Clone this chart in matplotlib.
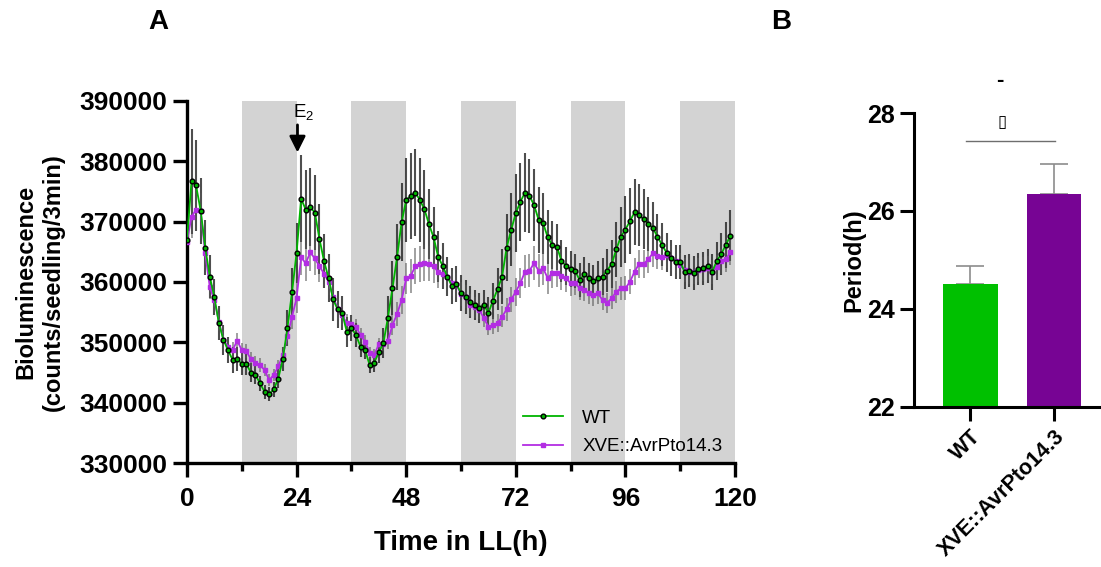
import numpy as np
import matplotlib
matplotlib.use("Agg")
import matplotlib.pyplot as plt
from matplotlib.lines import Line2D

plt.rcParams['font.family'] = ['Liberation Sans', 'DejaVu Sans']
plt.rcParams['mathtext.default'] = 'regular'

# ---- panel A data: bioluminescence, 1 h sampling in LL ----
hours = np.arange(0, 120)

wt_mean = [
    367000, 376700, 376000, 371800, 365700, 360900, 357450, 353150, 350400, 348700,
    347100, 347300, 346400, 346400, 345000, 344600, 343200, 341800, 341400, 342200,
    344000, 347300, 352400, 358300, 364850, 373800, 372000, 372400, 371500, 367200,
    363500, 360700, 357100, 355450, 354800, 351750, 352400, 351200, 349300, 348700,
    346250, 346600, 348350, 349850, 354100, 358950, 364100, 369900, 373600, 374250,
    374800, 373600, 372050, 369550, 367400, 364200, 362650, 360900, 359350, 359650,
    358200, 357550, 356700, 356200, 355750, 356200, 354900, 356900, 358800, 360900,
    365700, 368700, 371400, 373300, 374800, 374250, 372750, 370300, 369700, 367400,
    366100, 365850, 363500, 362650, 362150, 361800, 360300, 361300, 360600, 360150,
    360600, 360900, 361900, 363000, 365400, 367500, 368700, 370100, 371550, 371100,
    370400, 369600, 369000, 367500, 366200, 364850, 364000, 363350, 363350, 361600,
    361900, 361550, 362150, 362250, 362700, 361700, 363500, 364650, 366200, 367650,
]
wt_err = [
    3500, 8700, 7500, 5500, 4500, 3500, 3000, 2800, 2500, 2200,
    2200, 2000, 1800, 1800, 1600, 1500, 1300, 1200, 1200, 1300,
    1600, 2000, 3000, 4000, 5000, 7200, 6500, 6500, 6200, 5800,
    4500, 4000, 3500, 3000, 2800, 2500, 2200, 2000, 1800, 1500,
    1300, 1500, 1800, 2500, 3500, 4500, 5500, 6500, 7000, 7200,
    7200, 7000, 6500, 5800, 5000, 4200, 3800, 3300, 3000, 3000,
    3000, 2800, 2600, 2500, 2500, 2500, 2600, 3000, 3500, 4500,
    5500, 6000, 6500, 6500, 6500, 6200, 6000, 5500, 5000, 4500,
    4000, 3800, 3500, 3200, 3000, 2800, 2800, 2800, 2600, 2600,
    2800, 3000, 3500, 4000, 4500, 5000, 5500, 5500, 5500, 5200,
    5000, 4500, 4200, 3800, 3500, 3200, 3000, 2800, 2800, 2800,
    2800, 2800, 2700, 2700, 2800, 3000, 3200, 3500, 3800, 4200,
]
xve_mean = [
    366700, 370800, 372000, 371700, 364750, 359200, 357000, 353400, 350400, 349300,
    348700, 350300, 348700, 348550, 347200, 346600, 346250, 345400, 343750, 344600,
    346000, 347900, 351000, 354250, 357300, 364100, 363100, 364900, 363900, 362600,
    361400, 360050, 357550, 355600, 354500, 353150, 353000, 352600, 351200, 350100,
    348300, 347900, 349700, 349700, 350250, 352850, 354700, 357000, 360600, 361000,
    362650, 363000, 363100, 363000, 362650, 361600, 361300, 360900, 359800, 359500,
    358000, 357550, 356200, 355800, 355400, 354000, 352600, 352800, 353150, 354250,
    355450, 357100, 358400, 359800, 361700, 361900, 363100, 361900, 362250, 360600,
    361550, 361550, 361000, 360600, 359800, 359800, 358950, 358700, 358200, 357800,
    358100, 357000, 356550, 357300, 358400, 358950, 358950, 360050, 361700, 363000,
    363000, 363750, 364750, 364300, 364200, 364450, 363900, 363500, 362800, 362000,
    361700, 361700, 362000, 362100, 362250, 361700, 362550, 363400, 363750, 365000,
]
xve_err = [
    2500, 3500, 3500, 3000, 2500, 2000, 1800, 1600, 1500, 1400,
    1300, 1300, 1200, 1200, 1200, 1100, 1100, 1000, 1000, 1000,
    1100, 1300, 1600, 2000, 2500, 3000, 3000, 3000, 2800, 2600,
    2400, 2200, 2000, 1800, 1600, 1500, 1400, 1300, 1200, 1100,
    1000, 1000, 1100, 1200, 1400, 1700, 2000, 2300, 2600, 2800,
    3000, 3000, 3000, 2900, 2800, 2600, 2400, 2200, 2100, 2000,
    2000, 1900, 1800, 1700, 1600, 1500, 1400, 1400, 1500, 1700,
    1900, 2100, 2300, 2500, 2700, 2800, 2800, 2800, 2700, 2600,
    2500, 2400, 2300, 2200, 2100, 2000, 2000, 1900, 1800, 1800,
    1800, 1700, 1700, 1700, 1800, 1900, 2000, 2100, 2200, 2300,
    2300, 2300, 2300, 2200, 2200, 2100, 2000, 2000, 2000, 2000,
    2000, 2000, 2000, 2000, 2000, 2000, 2000, 2000, 2100, 2200,
]

# subjective night bands (h)
dark_starts = [12, 36, 60, 84, 108]
dark_len = 12

# ---- panel B data: free-running period ----
genotypes = ['WT', 'XVE::AvrPto14.3']
period_mean = [24.5, 26.35]
period_err = [0.37, 0.6]

GREEN = '#00b400'
MAGENTA = '#b32de3'

fig = plt.figure(figsize=(11.01, 5.67), dpi=100)

# ================= panel A =================
ax = fig.add_axes([0.1698, 0.1834, 0.4978, 0.6385])
for s in dark_starts:
    ax.axvspan(s, s + dark_len, color='#d3d3d3', lw=0, zorder=0)

ax.errorbar(hours, wt_mean, yerr=wt_err, fmt='none', ecolor='#222222',
            elinewidth=1.5, alpha=0.8, zorder=2)
ax.errorbar(hours, xve_mean, yerr=xve_err, fmt='none', ecolor='#555555',
            elinewidth=1.3, alpha=0.6, zorder=2)
ax.plot(hours, xve_mean, color=MAGENTA, lw=1.3, marker='s', ms=3.2,
        mfc=MAGENTA, mec=MAGENTA, zorder=3)
ax.plot(hours, wt_mean, color=GREEN, lw=1.3, marker='o', ms=3.4,
        mfc=GREEN, mec='black', mew=1.0, zorder=4)

ax.set_xlim(0, 120)
ax.set_ylim(330000, 390000)
ax.set_xticks(range(0, 121, 24))
ax.set_xticks(range(12, 120, 24), minor=True)
ax.set_yticks(range(330000, 390001, 10000))
for side in ['top', 'right']:
    ax.spines[side].set_visible(False)
for side in ['left', 'bottom']:
    ax.spines[side].set_linewidth(2.4)
ax.tick_params(axis='both', which='major', length=10, width=2.4, labelsize=19, pad=4)
ax.tick_params(axis='x', which='major', pad=7)
ax.tick_params(axis='x', which='minor', length=6, width=2.4)
for lab in ax.get_xticklabels() + ax.get_yticklabels():
    lab.set_fontweight('bold')

ax.set_xlabel('Time in LL(h)', fontsize=20, fontweight='bold')
ax.xaxis.set_label_coords(0.5, -0.185)
ax.set_ylabel('Bioluminescence\n(counts/seedling/3min)', fontsize=17,
              fontweight='bold', linespacing=1.3)
ax.yaxis.set_label_coords(-0.222, 0.5)

# estradiol addition
ax.annotate('', xy=(24.2, 381000), xytext=(24.2, 386500),
            arrowprops=dict(arrowstyle='-|>', color='black', lw=2, mutation_scale=24))
ax.text(23.2, 388200, 'E$_2$', fontsize=13.5, ha='left', va='center')

handles = [
    Line2D([], [], color=GREEN, lw=1.3, marker='o', ms=3.4, mfc=GREEN, mec='black'),
    Line2D([], [], color=MAGENTA, lw=1.3, marker='s', ms=3.2, mfc=MAGENTA, mec=MAGENTA),
]
ax.legend(handles, genotypes, loc='upper left', bbox_to_anchor=(0.6, 0.168),
          frameon=False, fontsize=13.5, handlelength=2.1, handletextpad=1.05,
          labelspacing=0.6, borderaxespad=0)

fig.text(158 / 1101, 1 - 22 / 567, 'A', fontsize=20, fontweight='bold',
         ha='center', va='center')

# ================= panel B =================
bx = fig.add_axes([0.8302, 0.2822, 0.1689, 0.5185])
xpos = np.arange(len(genotypes))
bx.bar(xpos, np.array(period_mean) - 22, bottom=22, width=0.655,
       color=['#00c000', '#770494'], zorder=2)
bx.errorbar(xpos, period_mean, yerr=[[0, 0], period_err], fmt='none',
            ecolor='#8c8c8c', elinewidth=1.2, capsize=10, capthick=1.2, zorder=1)
bx.plot([-0.05, 1.01], [27.43, 27.43], color='#6e6e6e', lw=1)
bx.text(0.38, 27.8, '\u25af', fontsize=12, ha='center', va='center')
bx.text(0.36, 28.67, '-', fontsize=16, fontweight='bold', ha='center',
        va='center', clip_on=False)

bx.set_xlim(-0.667, 1.548)
bx.set_ylim(22, 28)
bx.set_yticks([22, 24, 26, 28])
bx.set_xticks(xpos)
bx.set_xticklabels(genotypes, rotation=45, ha='right', rotation_mode='anchor',
                   fontsize=15.5, fontweight='bold')
for side in ['top', 'right']:
    bx.spines[side].set_visible(False)
for side in ['left', 'bottom']:
    bx.spines[side].set_linewidth(2.2)
bx.tick_params(axis='both', length=10, width=2.2, pad=4)
bx.tick_params(axis='y', labelsize=18)
for lab in bx.get_yticklabels():
    lab.set_fontweight('bold')
bx.set_ylabel('Period(h)', fontsize=17, fontweight='bold')
bx.yaxis.set_label_coords(-0.26, 0.5)

fig.text(781 / 1101, 1 - 22 / 567, 'B', fontsize=20, fontweight='bold',
         ha='center', va='center')

fig.savefig('out.png', dpi=100)
